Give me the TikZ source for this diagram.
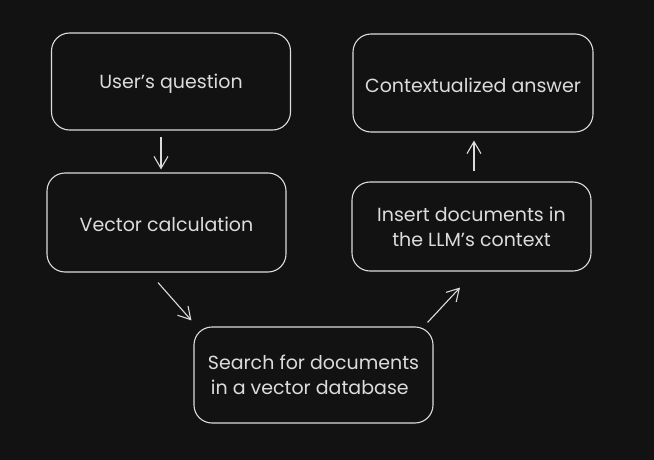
\documentclass[tikz,border=0pt]{standalone}
\usepackage{fontspec}
\setmainfont{Poppins}
\usetikzlibrary{arrows.meta}
\definecolor{bg}{HTML}{121212}
\definecolor{ink}{HTML}{DCDCDC}
\newcommand{\lowertext}[1]{\raisebox{-2pt}[\height][\depth]{#1}}
\begin{document}
\begin{tikzpicture}[x=1pt,y=-1pt,
  box/.style={draw=ink,line width=1.1pt,rounded corners=18pt,rectangle,
    text=ink,font=\fontsize{19}{25}\selectfont,inner sep=0pt},
  arr/.style={draw=ink,line width=1.1pt,-{Straight Barb[length=12pt,width=14pt,line width=1.1pt]}}]
\fill[bg] (0,0) rectangle (654,460);
\useasboundingbox (0,0) rectangle (654,460);
\node[box,minimum width=239pt,minimum height=97pt] (b1) at (171,81.5) {\lowertext{User's question}};
\node[box,minimum width=239pt,minimum height=99pt] (b2) at (166.5,222.5) {\lowertext{Vector calculation}};
\node[box,minimum width=239pt,minimum height=96pt,align=left] (b3) at (313.5,375) {Search for documents\\\hspace*{3pt}in a vector database};
\node[box,minimum width=240pt,minimum height=98pt] (b4) at (473,83) {\lowertext{Contextualized answer}};
\node[box,minimum width=239pt,minimum height=89pt,align=center] (b5) at (471.5,226.5) {Insert documents in\\the LLM's context};
\draw[arr] ([shift={(-10,6)}]b1.south) -- ([shift={(-5.5,-3)}]b2.north);
\draw[arr] ([shift={(-8.5,10)}]b2.south) -- ([shift={(-2,-6)}]b3.north west);
\draw[arr] ([shift={(-6,-4)}]b3.north east) -- ([shift={(-11.5,16)}]b5.south);
\draw[arr] ([shift={(2.5,-10)}]b5.north) -- ([shift={(1,8)}]b4.south);
\end{tikzpicture}
\end{document}
